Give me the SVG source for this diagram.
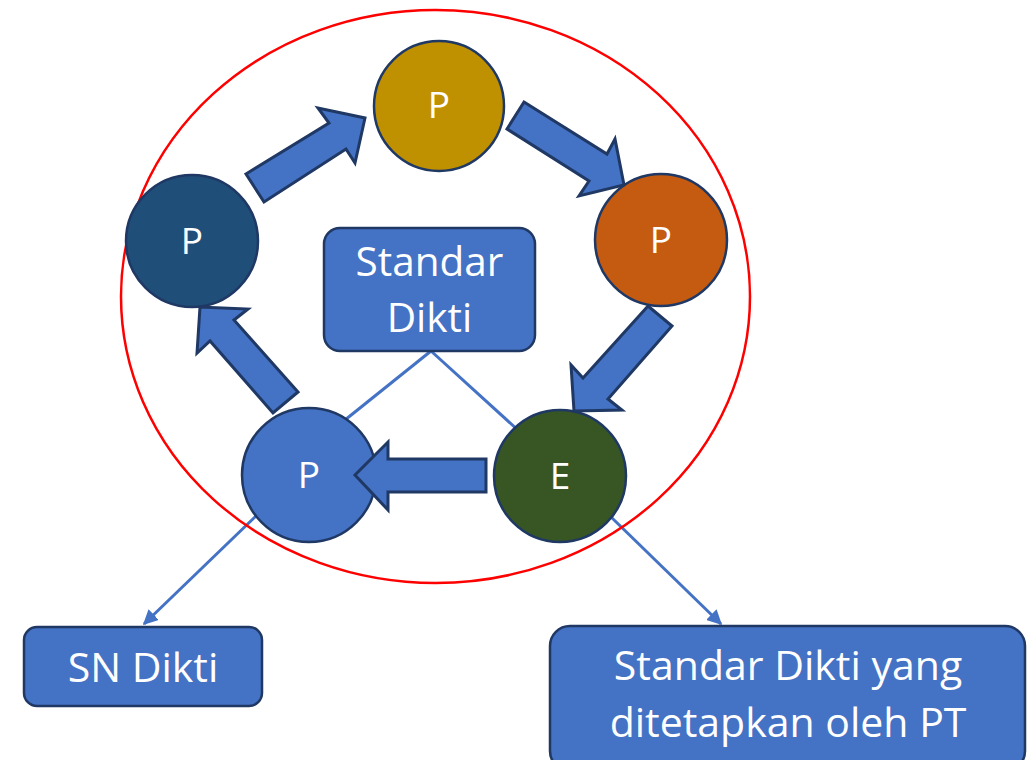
<svg xmlns="http://www.w3.org/2000/svg" width="1035" height="760" viewBox="0 0 1035 760">
<style>
.c{stroke:#1F3864;stroke-width:2.5}
.t{font-family:"Open Sans","Liberation Sans",sans-serif;fill:#fff;text-anchor:middle}
.ba{fill:#4472C4;stroke:#1F3864;stroke-width:3;stroke-linejoin:miter}
.ln{stroke:#4472C4;stroke-width:3;fill:none}
.bx{fill:#4472C4;stroke:#1F3864;stroke-width:2.5}
</style>
<defs>
<marker id="ah" viewBox="0 0 10 10" refX="9" refY="5" markerWidth="5" markerHeight="5" orient="auto" markerUnits="strokeWidth">
<path d="M0,0 L10,5 L0,10 z" fill="#4472C4"/>
</marker>
</defs>
<rect width="1035" height="760" fill="#fff"/>
<g id="connectors">
<line class="ln" x1="431" y1="351" x2="330" y2="432"/>
<line class="ln" x1="431" y1="351" x2="520" y2="432"/>
<line class="ln" x1="256" y1="516" x2="144" y2="624" marker-end="url(#ah)"/>
<line class="ln" x1="610" y1="516" x2="721" y2="624" marker-end="url(#ah)"/>
</g>
<g id="cycle-boundary">
<ellipse cx="435.5" cy="296.5" rx="314.5" ry="286.5" fill="none" stroke="#FF0000" stroke-width="2.5"/>
</g>
<g id="node-p-top"><circle class="c" cx="439" cy="106" r="65" fill="#BF9000"/><text class="t" x="439" y="118" font-size="37">P</text></g>
<g id="node-p-right"><circle class="c" cx="661" cy="240" r="66" fill="#C55A11"/><text class="t" x="661" y="253" font-size="37">P</text></g>
<g id="node-e"><circle class="c" cx="560" cy="476" r="66" fill="#375623"/><text class="t" x="560" y="489" font-size="37">E</text></g>
<g id="node-p-bottom"><circle class="c" cx="309" cy="475" r="67" fill="#4472C4"/><text class="t" x="309" y="488" font-size="37">P</text></g>
<g id="node-p-left"><circle class="c" cx="192" cy="241" r="66" fill="#1F4E79"/><text class="t" x="192" y="254" font-size="37">P</text></g>
<g id="arrows">
<polygon class="ba" points="246,174 329,123 318,108 365,118 355,163 346,149 264,202"/>
<polygon class="ba" points="524,102 607,154 615,139 624,185 579,196 589,181 507,129"/>
<polygon class="ba" points="648,306 672,326 608,399 622,410 574,411 571,365 583,378"/>
<polygon class="ba" points="486,459 388,459 388,442 355,475 388,510 388,492 486,492"/>
<polygon class="ba" points="298,392 234,320 248,309 200,307 197,353 210,341 273,413"/>
</g>
<g id="node-standar-dikti"><rect class="bx" x="324" y="228" width="211" height="123" rx="16"/><text class="t" x="429.5" y="276" font-size="40.5">Standar</text><text class="t" x="429.5" y="332" font-size="40.5">Dikti</text></g>
<g id="node-sn-dikti"><rect class="bx" x="24" y="627" width="238" height="79" rx="13"/><text class="t" x="143" y="682" font-size="41">SN Dikti</text></g>
<g id="node-standar-pt"><rect class="bx" x="550" y="626" width="475" height="145" rx="20"/><text class="t" x="788" y="680" font-size="41">Standar Dikti yang</text><text class="t" x="788" y="737" font-size="41">ditetapkan oleh PT</text></g>
</svg>
